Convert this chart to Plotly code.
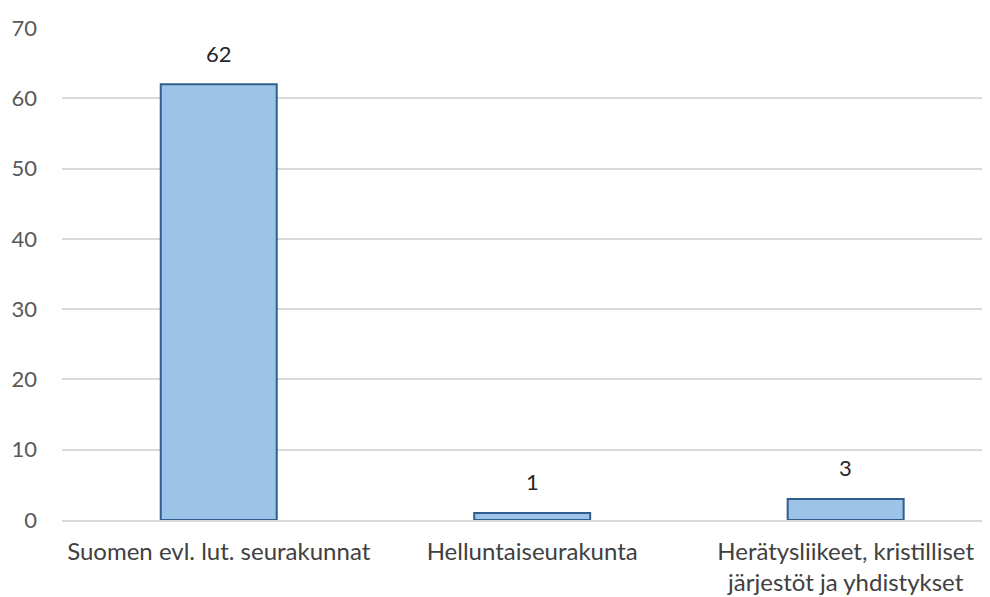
import plotly.graph_objects as go

categories = ["Suomen evl. lut. seurakunnat", "Helluntaiseurakunta",
              "Herätysliikeet, kristilliset<br>järjestöt ja yhdistykset"]
values = [62, 1, 3]
y_ticks = [0, 10, 20, 30, 40, 50, 60, 70]

FONT = "Lato"
fig = go.Figure(go.Bar(
    x=categories, y=values, width=0.37,
    marker=dict(color="#9DC3E6", line=dict(color="#2F5F8F", width=2)),
))
for c, v in zip(categories, values):
    fig.add_annotation(x=c, y=v, text=str(v), showarrow=False, yshift=31,
                       font=dict(family=FONT, size=22, color="#262626"))

fig.update_layout(
    width=990, height=589, plot_bgcolor="white", paper_bgcolor="white",
    margin=dict(l=54, r=0, t=20, b=77), showlegend=False,
    font=dict(family=FONT, size=22, color="#595959"),
    xaxis=dict(range=[-0.5, 2.486], showline=True, linecolor="#d9d9d9", linewidth=2,
               tickfont=dict(size=24, color="#404040"), ticks="", automargin=False,
               ticklabelstandoff=9),
    yaxis=dict(range=[0, 70], tickvals=y_ticks, gridcolor="#d9d9d9", gridwidth=2,
               zeroline=False, tickfont=dict(size=22, color="#595959"),
               ticklabelstandoff=24, automargin=False),
)
fig.write_html("out.html")
